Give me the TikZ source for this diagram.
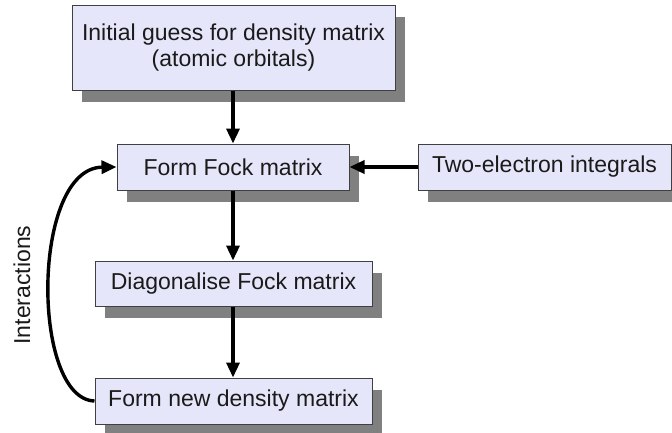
\documentclass[tikz,border=0pt]{standalone}
\usepackage{fontspec}
\setmainfont{Liberation Sans}
\usetikzlibrary{shadows,arrows.meta}
\definecolor{boxfill}{RGB}{230,230,250}
\definecolor{boxline}{RGB}{64,64,64}
\definecolor{shadowgray}{RGB}{128,128,128}
\definecolor{txt}{RGB}{26,26,26}
\begin{document}
\begin{tikzpicture}[x=1pt,y=-1pt,
  box/.style={draw=boxline, line width=1pt, fill=boxfill, rectangle, inner sep=0pt,
    text=txt, align=center, font=\fontsize{23}{26.5}\selectfont,
    drop shadow={shadow xshift=10pt, shadow yshift=-12pt, fill=shadowgray, opacity=1}},
  arr/.style={line width=3.4pt, -{Triangle[length=15pt,width=13pt]}}]
\useasboundingbox (0,0) rectangle (672,432);
\node[box, minimum width=323pt, minimum height=85pt] (b1) at (233.5,47.5)
  {Initial guess for density matrix\\(atomic orbitals)};
\node[box, minimum width=232pt, minimum height=46pt] (b2) at (233,167) {Form Fock matrix};
\node[box, minimum width=253pt, minimum height=46pt] (b3) at (544.5,167) {Two-electron integrals};
\node[box, minimum width=277pt, minimum height=45pt] (b4) at (233.5,283.5) {Diagonalise Fock matrix};
\node[box, minimum width=277pt, minimum height=46pt] (b5) at (233.5,401) {Form new density matrix};
\draw[arr] (b1.south -| b2.north) -- (b2.north);
\draw[arr] (b3.west) -- (b2.east);
\draw[arr] (b2.south) -- (b4.north -| b2.south);
\draw[arr] (b4.south -| b2.south) -- (b5.north -| b2.south);
\draw[arr] (b5.west) .. controls (31,399) and (31,168) .. (b2.west);
\node[rotate=90, text=txt, font=\fontsize{23}{26.5}\selectfont] (lbl) at (22,285) {Interactions};
\end{tikzpicture}
\end{document}
